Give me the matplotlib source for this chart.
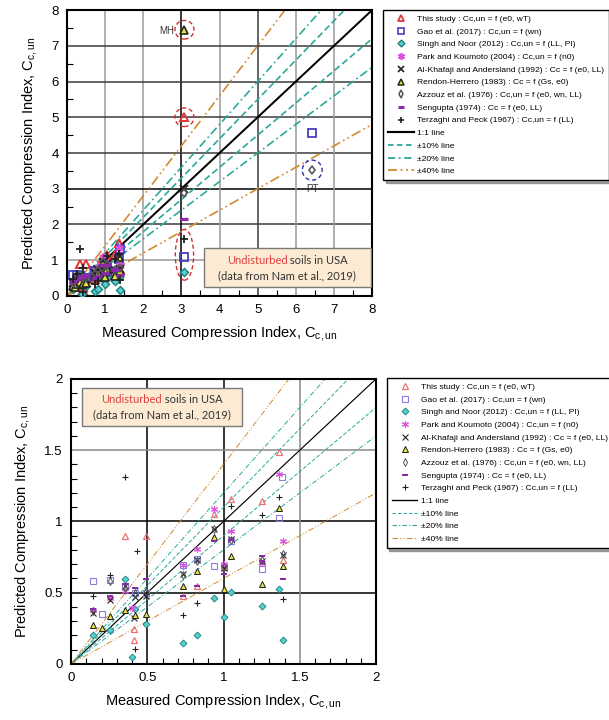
import numpy as np
import matplotlib
matplotlib.use("Agg")
from matplotlib import pyplot as plt
from matplotlib.lines import Line2D
from matplotlib.patches import Ellipse, FancyBboxPatch
from matplotlib.offsetbox import TextArea, HPacker, VPacker, AnnotationBbox
from matplotlib.ticker import MultipleLocator

plt.rcParams["font.family"] = ["Liberation Sans", "DejaVu Sans"]

# measured vs predicted Cc,un for each empirical correlation
this_x = [0.354, 0.49, 0.41, 0.41, 0.737, 0.824, 0.94, 1.0, 1.05, 1.25, 1.364, 1.392, 3.08]
this_y = [0.90, 0.90, 0.245, 0.166, 0.474, 0.55, 1.05, 0.696, 1.157, 1.14, 1.49, 0.73, 5.0]

gao_x = [0.146, 0.2, 0.256, 0.354, 0.42, 0.49, 0.737, 0.824, 0.94, 1.0, 1.05, 1.25, 1.385, 1.364, 3.08, 6.43]
gao_y = [0.584, 0.353, 0.59, 0.544, 0.498, 0.50, 0.696, 0.736, 0.69, 0.68, 0.86, 0.668, 1.31, 1.023, 1.08, 4.55]

singh_x = [0.146, 0.256, 0.354, 0.42, 0.40, 0.49, 0.737, 0.824, 0.94, 1.0, 1.05, 1.25, 1.364, 1.392, 3.08]
singh_y = [0.203, 0.24, 0.598, 0.388, 0.05, 0.283, 0.147, 0.2, 0.463, 0.327, 0.505, 0.404, 0.528, 0.166, 0.67]

park_x = [0.146, 0.256, 0.354, 0.40, 0.737, 0.824, 0.94, 1.0, 1.05, 1.25, 1.364, 1.392]
park_y = [0.38, 0.46, 0.51, 0.39, 0.696, 0.81, 1.089, 0.70, 0.93, 0.71, 1.334, 0.86]

khafaji_x = [0.146, 0.256, 0.354, 0.41, 0.42, 0.49, 0.737, 0.824, 0.94, 1.0, 1.05, 1.25, 1.392, 3.08]
khafaji_y = [0.357, 0.45, 0.55, 0.32, 0.47, 0.48, 0.633, 0.73, 0.949, 0.673, 0.88, 0.72, 0.766, 2.98]

rendon_x = [0.146, 0.2, 0.256, 0.354, 0.42, 0.49, 0.737, 0.824, 0.94, 1.0, 1.05, 1.25, 1.364, 1.392, 3.08]
rendon_y = [0.27, 0.252, 0.334, 0.38, 0.346, 0.35, 0.544, 0.65, 0.89, 0.528, 0.755, 0.56, 1.093, 0.69, 7.45]

azzouz_x = [0.146, 0.256, 0.354, 0.42, 0.49, 0.737, 0.824, 0.94, 1.0, 1.05, 1.25, 1.392, 3.08, 6.43]
azzouz_y = [0.37, 0.58, 0.53, 0.50, 0.515, 0.625, 0.72, 0.95, 0.68, 0.87, 0.73, 0.77, 2.88, 3.52]

sengupta_x = [0.146, 0.256, 0.354, 0.42, 0.49, 0.737, 0.824, 0.94, 1.0, 1.05, 1.25, 1.25, 1.392, 3.08]
sengupta_y = [0.385, 0.474, 0.56, 0.533, 0.596, 0.474, 0.55, 0.86, 0.633, 0.87, 0.755, 0.72, 0.596, 2.14]

terzaghi_x = [0.146, 0.256, 0.354, 0.43, 0.42, 0.737, 0.824, 1.05, 1.25, 1.364, 1.392, 3.08]
terzaghi_y = [0.479, 0.626, 1.315, 0.79, 0.107, 0.341, 0.428, 1.11, 1.042, 1.168, 0.456, 1.58]

labels = [
    "This study : Cc,un = f (e0, wT)",
    "Gao et al. (2017) : Cc,un = f (wn)",
    "Singh and Noor (2012) : Cc,un = f (LL, PI)",
    "Park and Koumoto (2004) : Cc,un = f (n0)",
    "Al-Khafaji and Andersland (1992) : Cc = f (e0, LL)",
    "Rendon-Herrero (1983) : Cc = f (Gs, e0)",
    "Azzouz et al. (1976) : Cc,un = f (e0, wn, LL)",
    "Sengupta (1974) : Cc = f (e0, LL)",
    "Terzaghi and Peck (1967) : Cc,un = f (LL)",
]
line_labels = ["1:1 line", "\u00b110% line", "\u00b120% line", "\u00b140% line"]

series = [(this_x, this_y), (gao_x, gao_y), (singh_x, singh_y), (park_x, park_y),
          (khafaji_x, khafaji_y), (rendon_x, rendon_y), (azzouz_x, azzouz_y),
          (sengupta_x, sengupta_y), (terzaghi_x, terzaghi_y)]

teal = "#2aa89a"
orange = "#d08a30"


def styles(scale, light):
    red = "#e87070" if light else "#e03838"
    blue = "#8a7ee0" if light else "#4a3fc0"
    return [
        dict(marker="^", mfc="none", mec=red, mew=1.1 * scale),
        dict(marker="s", mfc="none", mec=blue, mew=1.0 * scale),
        dict(marker="D", mfc="#55d0d0", mec="#1e8080", mew=0.8 * scale, ms_k=0.7),
        dict(marker=(6, 2, 0), mfc="none", mec="#e050e0", mew=1.0 * scale),
        dict(marker="x", mfc="none", mec="#222222", mew=1.0 * scale, ms_k=0.9),
        dict(marker="^", mfc="#e6e43a", mec="#222222", mew=0.9 * scale),
        dict(marker="d", mfc="none", mec="#555555", mew=0.9 * scale, ms_k=0.75),
        dict(marker="_", mfc="none", mec="#8a2aa8", mew=1.8 * scale),
        dict(marker="+", mfc="none", mec="#222222", mew=1.0 * scale),
    ]


def draw(ax, lim, ms, scale, light, lw):
    xs = np.array([0, lim])
    ax.plot(xs, xs, color="black", lw=lw * 1.2, zorder=2)
    for k in (1.1, 0.9):
        ax.plot(xs, k * xs, color=teal, lw=lw, ls=(0, (4, 2)), zorder=2)
    for k in (1.2, 0.8):
        ax.plot(xs, k * xs, color=teal, lw=lw, ls=(0, (5, 2, 1, 2)), zorder=2)
    for k in (1.4, 0.6):
        ax.plot(xs, k * xs, color=orange, lw=lw, ls=(0, (6, 2, 1, 2, 1, 2)), zorder=2)
    for (x, y), st in zip(series, styles(scale, light)):
        st = dict(st)
        k = st.pop("ms_k", 1.0)
        ax.plot(x, y, ls="none", ms=ms * k, zorder=3, **st)
    ax.set_xlim(0, lim)
    ax.set_ylim(0, lim)
    for sp in ax.spines.values():
        sp.set_linewidth(1.5)
    ax.tick_params(which="both", direction="in", labelsize=9.5, top=False, right=False)
    ax.tick_params(which="major", length=0, pad=6)
    ax.tick_params(which="minor", length=4, width=0.8)
    ax.set_xlabel("Measured Compression Index, C$_{\\mathregular{c,un}}$", fontsize=10.5, labelpad=6)
    ax.set_ylabel("Predicted Compression Index, C$_{\\mathregular{c,un}}$", fontsize=10.5, labelpad=8)


def legend_handles(scale, light, lw):
    hs = []
    for st in styles(scale, light):
        st = dict(st)
        k = st.pop("ms_k", 1.0)
        hs.append(Line2D([], [], ls="none", ms=5 * k, **st))
    hs.append(Line2D([], [], color="black", lw=lw * 1.2))
    hs.append(Line2D([], [], color=teal, lw=lw, ls=(0, (3, 2))))
    hs.append(Line2D([], [], color=teal, lw=lw, ls=(0, (4, 2, 1, 2))))
    hs.append(Line2D([], [], color=orange, lw=lw, ls=(0, (5, 2, 1, 2, 1, 2))))
    return hs


def info_box(ax, x0, y0, w, h):
    ax.add_patch(FancyBboxPatch((x0, y0), w, h, boxstyle="square,pad=0", transform=ax.transAxes,
                                fc="#fcebd2", ec="#7a7a7a", lw=1.0, zorder=5))
    tp = dict(fontsize=8, family="Lato")
    line1 = HPacker(children=[TextArea("Undisturbed", textprops=dict(color="#e04040", **tp)),
                              TextArea(" soils in USA", textprops=dict(color="#333333", **tp))],
                    pad=0, sep=0)
    line2 = TextArea("(data from Nam et al., 2019)", textprops=dict(color="#333333", **tp))
    box = VPacker(children=[line1, line2], align="center", pad=0, sep=3)
    ab = AnnotationBbox(box, (x0 + w / 2, y0 + h / 2), xycoords="axes fraction",
                        frameon=False, box_alignment=(0.5, 0.5), zorder=6)
    ax.add_artist(ab)


fig = plt.figure(figsize=(6.09, 7.2), dpi=100)

# top: full range
ax1 = fig.add_axes([0.110, 0.589, 0.501, 0.397])
draw(ax1, 8, 6, 1.3, False, 1.2)
ax1.xaxis.set_major_locator(MultipleLocator(1))
ax1.yaxis.set_major_locator(MultipleLocator(1))
ax1.xaxis.set_minor_locator(MultipleLocator(0.5))
ax1.yaxis.set_minor_locator(MultipleLocator(0.5))
for v in range(1, 8):
    c = "black" if v == 3 else ("#3a3a3a" if v == 5 else "#9a9a9a")
    ax1.axvline(v, color=c, lw=1.1, zorder=1)
    c = "black" if v == 3 else ("#9a9a9a" if v == 1 else "#3a3a3a")
    ax1.axhline(v, color=c, lw=1.1, zorder=1)
info_box(ax1, 0.45, 0.03, 0.545, 0.136)
for (cx, cy, w, h, col) in [(3.08, 7.45, 0.5, 0.52, "#d03030"), (3.08, 5.0, 0.5, 0.52, "#d03030"),
                            (3.08, 1.15, 0.48, 1.42, "#d03030"), (6.43, 3.52, 0.52, 0.56, "#3030b0")]:
    ax1.add_patch(Ellipse((cx, cy), w, h, fill=False, ec=col, lw=1.0, ls=(0, (3, 2)), zorder=4))
ax1.text(2.62, 7.42, "MH", fontsize=7, ha="center", va="center", color="#333333")
ax1.text(6.43, 3.0, "PT", fontsize=7, ha="center", va="center", color="#333333")

# bottom: zoom 0-2
ax2 = fig.add_axes([0.1166, 0.0778, 0.501, 0.396])
draw(ax2, 2, 5, 0.8, True, 0.7)
ax2.xaxis.set_major_locator(MultipleLocator(0.5))
ax2.yaxis.set_major_locator(MultipleLocator(0.5))
ax2.xaxis.set_minor_locator(MultipleLocator(0.1))
ax2.yaxis.set_minor_locator(MultipleLocator(0.1))
ax2.xaxis.set_major_formatter(plt.FuncFormatter(lambda v, p: f"{v:g}"))
ax2.yaxis.set_major_formatter(plt.FuncFormatter(lambda v, p: f"{v:g}"))
for v in (0.5, 1.0, 1.5):
    c = "#8a8a8a" if v == 1.5 else "black"
    ax2.axvline(v, color=c, lw=1.1, zorder=1)
    ax2.axhline(v, color=c, lw=1.1, zorder=1)
info_box(ax2, 0.035, 0.833, 0.525, 0.134)

leg_kw = dict(loc="upper left", fontsize=6.1, frameon=True, fancybox=False, shadow=True,
              handlelength=3.0, handletextpad=0.4, labelspacing=0.56, borderpad=0.6,
              borderaxespad=0)
l1 = fig.legend(legend_handles(1.2, False, 1.3), labels + line_labels,
                bbox_to_anchor=(0.629, 0.986), **leg_kw)
l1.get_frame().set_edgecolor("black")
l1.get_frame().set_linewidth(1.0)
l2 = fig.legend(legend_handles(0.8, True, 0.8), labels + line_labels,
                bbox_to_anchor=(0.635, 0.475), **leg_kw)
l2.get_frame().set_edgecolor("black")
l2.get_frame().set_linewidth(1.0)

fig.savefig("out.png", dpi=100)
